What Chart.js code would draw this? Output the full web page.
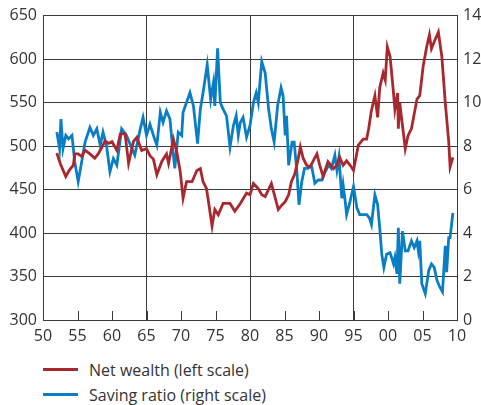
<!DOCTYPE html>
<html>
<head>
<meta charset="utf-8">
<script src="https://cdn.jsdelivr.net/npm/chart.js@4/dist/chart.umd.min.js"></script>
<style>
  html, body { margin: 0; padding: 0; background: #fff; }
  #wrap { width: 481px; height: 405px; position: relative; font-family: 'Open Sans', sans-serif; color: #333; }
  #chartBox { width: 481px; height: 352px; position: relative; }
  #legend { padding-top: 5px; }
  .item { height: 25px; display: flex; align-items: center; font-size: 16px; }
  .swatch { width: 35px; height: 3px; margin-left: 43px; margin-right: 11px; }
</style>
</head>
<body>
<div id="wrap">
  <div id="chartBox"><canvas id="chart"></canvas></div>
  <div id="legend"></div>
</div>
<script>
// x tick labels (two-digit years, every 5 years from 1950)
const tickLabels = ['50', '55', '60', '65', '70', '75', '80', '85', '90', '95', '00', '05', '10'];

// Net wealth, left scale
const wealthYears = [
  1952.0, 1952.5, 1953.3, 1953.8, 1954.4, 1954.6, 1955.1, 1955.6, 1956.1, 1956.8,
  1957.5, 1958.0, 1958.5, 1959.0, 1959.5, 1960.0, 1960.7, 1961.2, 1961.9, 1962.4,
  1963.1, 1963.6, 1964.3, 1965.0, 1965.5, 1966.0, 1966.5, 1967.2, 1967.9, 1968.2,
  1968.9, 1969.4, 1969.9, 1970.3, 1970.8, 1971.6, 1972.3, 1972.8, 1973.2, 1973.7,
  1974.1, 1974.5, 1974.9, 1975.4, 1976.1, 1977.1, 1977.8, 1978.6, 1979.5, 1980.0,
  1980.5, 1981.2, 1981.7, 1982.2, 1983.1, 1984.1, 1984.6, 1985.1, 1985.6, 1986.0,
  1986.5, 1987.0, 1987.3, 1987.7, 1988.2, 1988.7, 1989.7, 1990.1, 1990.6, 1991.3,
  1992.1, 1992.6, 1993.0, 1993.5, 1994.0, 1994.7, 1995.0, 1995.7, 1996.4, 1996.9,
  1997.2, 1997.6, 1998.1, 1998.5, 1998.8, 1999.3, 1999.6, 1999.9, 2000.3, 2000.8,
  2001.0, 2001.4, 2001.5, 2001.7, 2002.5, 2002.9, 2003.4, 2004.2, 2004.6, 2005.1,
  2005.6, 2006.0, 2006.3, 2006.8, 2007.3, 2007.8, 2008.3, 2008.8, 2009.0, 2009.4
];
const wealthValues = [
  492, 480, 465, 472, 478, 491, 491, 488, 495, 491,
  486, 491, 498, 506, 503, 505, 495, 514, 514, 480,
  505, 510, 495, 497, 489, 485, 467, 482, 491, 480,
  508, 493, 470, 440, 459, 459, 472, 474, 459, 451,
  430, 408, 427, 421, 434, 434, 425, 434, 446, 444,
  457, 451, 444, 442, 457, 427, 432, 436, 444, 459,
  468, 486, 499, 486, 478, 476, 491, 478, 465, 482,
  474, 478, 487, 478, 483, 476, 472, 501, 508, 508,
  520, 541, 558, 533, 567, 584, 576, 614, 603, 561,
  542, 561, 520, 550, 497, 512, 520, 554, 558, 592,
  614, 628, 612, 622, 631, 603, 550, 505, 476, 487
];

// Saving ratio, right scale
const savingYears = [
  1952.0, 1952.4, 1952.6, 1952.9, 1953.3, 1953.7, 1954.2, 1954.6, 1955.1, 1955.6,
  1956.1, 1956.8, 1957.3, 1957.8, 1958.3, 1958.7, 1959.2, 1959.7, 1960.2, 1960.7,
  1961.4, 1962.1, 1962.9, 1963.3, 1964.1, 1964.5, 1965.0, 1965.5, 1966.0, 1966.5,
  1967.0, 1967.4, 1967.9, 1968.4, 1968.8, 1969.1, 1969.6, 1970.1, 1970.3, 1970.8,
  1971.3, 1971.8, 1972.4, 1972.8, 1973.2, 1973.8, 1974.3, 1974.7, 1974.9, 1975.3,
  1975.7, 1976.1, 1976.6, 1977.1, 1977.6, 1978.0, 1978.3, 1978.6, 1979.0, 1979.5,
  1980.0, 1980.5, 1980.9, 1981.2, 1981.7, 1982.2, 1982.7, 1983.1, 1983.5, 1984.0,
  1984.5, 1984.8, 1985.1, 1985.3, 1985.6, 1986.1, 1986.4, 1986.8, 1987.1, 1987.5,
  1987.9, 1988.4, 1988.9, 1989.4, 1989.9, 1990.4, 1990.9, 1991.4, 1991.8, 1992.3,
  1992.6, 1992.9, 1993.3, 1993.5, 1993.8, 1994.0, 1994.5, 1995.0, 1995.5, 1995.9,
  1996.4, 1996.9, 1997.3, 1997.6, 1998.1, 1998.5, 1998.8, 1999.1, 1999.4, 1999.8,
  2000.3, 2000.8, 2001.0, 2001.3, 2001.5, 2001.7, 2002.1, 2002.5, 2002.9, 2003.4,
  2003.8, 2004.2, 2004.4, 2004.6, 2004.9, 2005.4, 2005.9, 2006.3, 2006.7, 2007.1,
  2007.5, 2007.9, 2008.3, 2008.5, 2008.8, 2009.0, 2009.4
];
const savingValues = [
  8.64, 7.88, 9.24, 7.88, 8.49, 8.33, 8.49, 7.27, 6.36, 7.27,
  8.18, 8.86, 8.49, 8.79, 8.03, 8.64, 8.03, 6.82, 7.42, 7.12,
  8.79, 8.49, 7.88, 7.58, 8.79, 9.32, 8.49, 9.0, 8.49, 8.03,
  9.55, 9.09, 9.62, 9.24, 7.88, 6.97, 8.64, 8.49, 9.55, 10.0,
  10.45, 9.85, 8.11, 9.7, 10.45, 11.74, 10.15, 10.91, 9.85, 12.5,
  10.0, 9.7, 9.39, 7.95, 8.94, 9.39, 8.49, 9.09, 9.32, 8.41,
  8.94, 10.0, 10.45, 10.0, 11.89, 11.36, 9.7, 8.79, 8.18, 9.85,
  10.68, 10.3, 8.49, 9.39, 7.12, 8.18, 8.18, 6.8, 5.3, 6.36,
  6.97, 6.97, 7.12, 6.29, 6.44, 6.44, 6.82, 7.12, 6.97, 7.58,
  6.89, 7.5, 5.6, 6.21, 5.45, 4.85, 5.45, 6.14, 5.15, 4.85,
  4.85, 4.85, 4.7, 4.39, 5.76, 5.3, 4.24, 3.03, 2.42, 3.03,
  3.1, 2.58, 2.88, 2.12, 4.24, 1.67, 4.09, 3.18, 3.18, 3.64,
  3.33, 3.64, 3.18, 3.64, 1.67, 1.21, 2.27, 2.58, 2.42, 1.82,
  1.52, 1.29, 3.41, 2.2, 3.79, 3.79, 4.92
];

const RED = '#a8282f';
const BLUE = '#0a7ec4';
const GRID = '#3a3a3a';
const TEXT = '#333333';
const FONT = { family: "'Open Sans', sans-serif", size: 16 };
const majorLines = [1965, 1980, 1995];

const toPoints = (xs, ys) => xs.map((x, i) => ({ x, y: ys[i] }));

// short upward tick marks along the bottom edge
const innerTicks = {
  id: 'innerTicks',
  beforeDatasetsDraw(chart) {
    const { ctx, chartArea, scales } = chart;
    ctx.save();
    ctx.strokeStyle = GRID;
    ctx.lineWidth = 1;
    scales.x.ticks.forEach(t => {
      const px = Math.round(scales.x.getPixelForValue(t.value)) + 0.5;
      ctx.beginPath();
      ctx.moveTo(px, chartArea.bottom);
      ctx.lineTo(px, chartArea.bottom - 9);
      ctx.stroke();
    });
    ctx.restore();
  }
};

const chart = new Chart(document.getElementById('chart'), {
  type: 'line',
  data: {
    datasets: [
      {
        label: 'Net wealth (left scale)',
        data: toPoints(wealthYears, wealthValues),
        borderColor: RED,
        backgroundColor: RED,
        borderWidth: 2.8,
        pointRadius: 0,
        tension: 0,
        yAxisID: 'y'
      },
      {
        label: 'Saving ratio (right scale)',
        data: toPoints(savingYears, savingValues),
        borderColor: BLUE,
        backgroundColor: BLUE,
        borderWidth: 2.8,
        pointRadius: 0,
        tension: 0,
        yAxisID: 'y1'
      }
    ]
  },
  options: {
    responsive: true,
    maintainAspectRatio: false,
    animation: false,
    layout: { padding: { top: 12 } },
    plugins: {
      legend: { display: false },
      tooltip: { enabled: false }
    },
    scales: {
      x: {
        type: 'linear',
        min: 1950,
        max: 2010,
        afterFit: s => { s.height = 32; },
        ticks: {
          stepSize: 5,
          padding: 7,
          color: TEXT,
          font: FONT,
          maxRotation: 0,
          callback: v => tickLabels[Math.round((v - 1950) / 5)]
        },
        grid: {
          drawTicks: false,
          color: c => (c.tick && majorLines.includes(c.tick.value)) ? GRID : 'rgba(0,0,0,0)',
          lineWidth: 1
        },
        border: { display: true, color: GRID, width: 1 }
      },
      y: {
        position: 'left',
        min: 300,
        max: 650,
        afterFit: s => { s.width = 43; },
        ticks: { stepSize: 50, padding: 6, color: TEXT, font: FONT },
        grid: { drawTicks: false, color: GRID, lineWidth: 1 },
        border: { display: true, color: GRID, width: 1 }
      },
      y1: {
        position: 'right',
        min: 0,
        max: 14,
        afterFit: s => { s.width = 24; },
        ticks: { stepSize: 2, padding: 6, color: TEXT, font: FONT },
        grid: { drawOnChartArea: false, drawTicks: false },
        border: { display: true, color: GRID, width: 1 }
      }
    }
  },
  plugins: [innerTicks]
});

// legend below the chart, one entry per row
const legendEl = document.getElementById('legend');
chart.data.datasets.forEach(ds => {
  const row = document.createElement('div');
  row.className = 'item';
  const sw = document.createElement('span');
  sw.className = 'swatch';
  sw.style.background = ds.borderColor;
  const txt = document.createElement('span');
  txt.textContent = ds.label;
  row.appendChild(sw);
  row.appendChild(txt);
  legendEl.appendChild(row);
});
</script>
</body>
</html>
